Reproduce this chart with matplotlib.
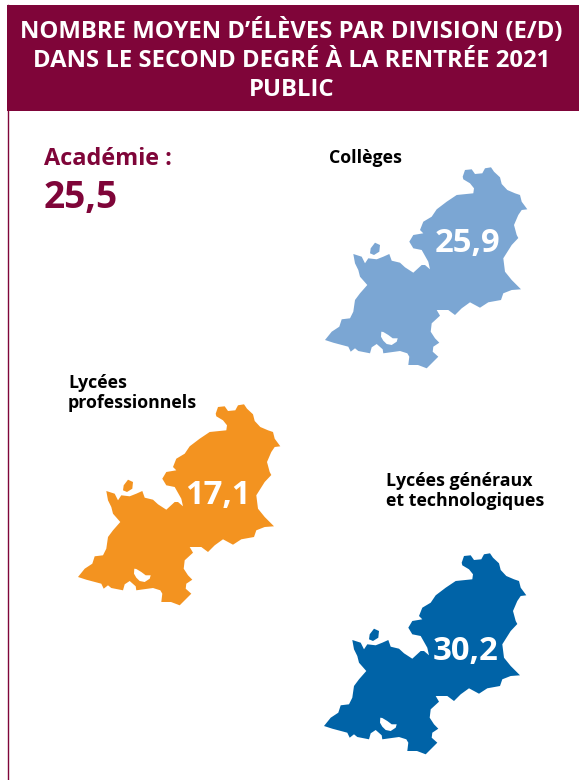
import matplotlib
matplotlib.use("Agg")
import matplotlib.pyplot as plt
from matplotlib.patches import Polygon, Rectangle

title_lines = ["NOMBRE MOYEN D’ÉLÈVES PAR DIVISION (E/D)", "DANS LE SECOND DEGRÉ À LA RENTRÉE 2021", "PUBLIC"]
academie_label = "Académie :"
academie_value = "25,5"
categories = ["Collèges", "Lycées\nprofessionnels", "Lycées généraux\net technologiques"]
values = ["25,9", "17,1", "30,2"]
colors = ["#7BA6D3", "#F39320", "#0063A7"]
offsets = [(0, 0), (-247, 237), (-1, 386)]
label_pos = [(329, 158), (68, 393), (386, 491)]
value_pos = [(468, 244), (218, 495), (466, 652)]

outline = [(462.7,176.7),(465,170),(471.7,169.3),(475,174),(482.3,173.3),(485,168.3),(491,167.3),(494,171.7),
(500,177.3),(501.7,184),(507.3,190),(515,193.3),(520,195),(521.7,201.7),(527.3,209.3),(521.7,210),(518.3,215),
(514,225),(516.7,235),(518.3,238),(511.7,245),(503.3,258.3),(505,271.7),(511.7,280),(521,289.3),(511.7,290),
(503.3,293.3),(501,300),(488.3,302.3),(480,307.7),(470,302.3),(461.7,308.3),(455,315),(448.3,310),(436.7,310),
(440,315.7),(431.7,323.3),(430.7,331.7),(435,338.3),(439.3,342.7),(433.3,346.7),(432.7,351.7),(438.3,356.7),
(431.7,363.3),(426.7,368.3),(418,365),(408.3,365),(409.3,356.7),(407.3,353.3),(400,351),(383.3,353.3),
(382.7,349.3),(376.7,344),(371.7,347.3),(370,353.3),(358.3,351),(355,348.3),(350.7,351.7),(348.3,346.7),
(333.3,342.7),(325,340),(331.7,331.7),(339.3,326.7),(341.7,319.3),(350,318.3),(353.3,311.7),(355,300),
(360,293.3),(367.3,285),(360,276.7),(358.3,270),(355,263.3),(353.3,254),(361.7,256.7),(365,263.3),(368.3,258.3),
(376.7,259.3),(383.3,256.7),(389.3,254),(391.7,260.7),(400,262.7),(405,267.3),(413.3,272.7),(421.7,265),
(425,265),(430,269.3),(428.3,261.7),(421.7,250),(413.3,248.3),(409.3,241.7),(413.3,235),(423.3,233.3),(420,230),
(423.3,221.7),(431.7,216.7),(436.7,209.3),(446.7,201.7),(456.7,195),(473.3,193.3),(474,188.3),(470,183.3),
(463.3,179.3)]
island = [(370.7,248.3),(375,242.7),(380,245),(379.3,251.7),(374,255),(370,253.3)]
notch = [(381.3,331.7),(383.3,332),(388.3,335),(392.7,338.3),(397.7,338.3),(396.7,341.7),(391.7,345),(386.7,344),
(383.3,340.7),(381,336.7)]

MAROON = "#7F0539"
plt.rcParams["font.family"] = ["Open Sans", "DejaVu Sans"]
fig = plt.figure(figsize=(5.79, 7.8), dpi=100)
ax = fig.add_axes([0, 0, 1, 1])
ax.set_xlim(0, 579)
ax.set_ylim(780, 0)
ax.axis("off")

ax.add_patch(Rectangle((7, 5), 572, 106, color=MAROON, lw=0))
ax.plot([8, 8], [5, 780], color=MAROON, lw=1)
for line, y in zip(title_lines, [38, 67, 96]):
    ax.text(291.5, y, line, color="white", fontsize=17.2, fontweight="bold", ha="center", va="baseline")

ax.text(44, 159, academie_label, color=MAROON, fontsize=16.9, fontweight="bold", ha="left", va="center")
ax.text(44, 198, academie_value, color=MAROON, fontsize=26.7, fontweight="bold", ha="left", va="center")

for cat, val, col, off, lp, vp in zip(categories, values, colors, offsets, label_pos, value_pos):
    for shape, c in ((outline, col), (island, col), (notch, "white")):
        pts = [(off[0] + x, off[1] + y) for x, y in shape]
        ax.add_patch(Polygon(pts, closed=True, facecolor=c, edgecolor="none"))
    ax.text(lp[0], lp[1], cat, color="black", fontsize=12.8, fontweight="bold", ha="left", va="center", linespacing=1.18)
    ax.text(vp[0], vp[1], val, color="white", fontsize=23.7, fontweight="bold", ha="center", va="center")

fig.savefig("out.png", dpi=100)
